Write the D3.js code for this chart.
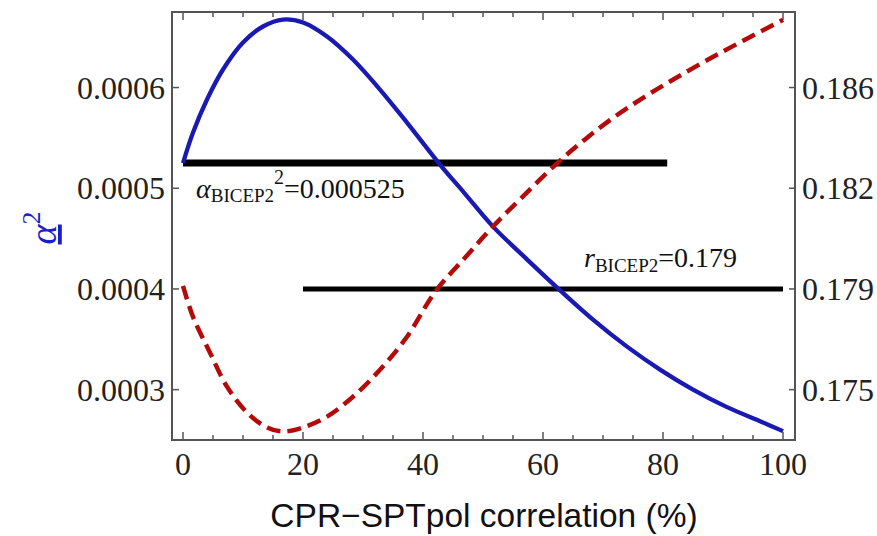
<!DOCTYPE html>
<html><head><meta charset="utf-8">
<script src="https://cdn.jsdelivr.net/npm/d3@7"></script>
<style>body{margin:0;background:#fff}svg{display:block}</style>
</head><body>
<svg id="c" width="877" height="536"></svg>
<script>
// ---- data ----
const corrX = [0,1.67,4,6.67,10,13.33,16.67,20,24,28.33,32.83,37.33,42.83,46.83,51.67,56.67,62.17,68.33,74,79.5,85,90.67,96.17,100];
const alpha2 = [0.000525,0.0005553,0.0005881,0.0006179,0.0006447,0.0006606,0.0006675,0.0006646,0.0006507,0.0006278,0.000598,0.0005652,0.0005235,0.0004957,0.0004619,0.0004331,0.0004023,0.0003695,0.0003427,0.0003199,0.0003,0.0002826,0.0002687,0.0002588];
const rX = [0,1.67,4.5,7.33,10.67,14,16.67,20,24,28.33,32.83,37.33,42,47,51.67,56.67,62.33,67,72,77,82,87.83,93.67,100];
const rVals = [0.17909,0.17789,0.17647,0.17512,0.17409,0.17350,0.17334,0.17350,0.17393,0.17472,0.17579,0.17710,0.17888,0.17993,0.18086,0.18176,0.18299,0.18394,0.18485,0.18564,0.18636,0.18715,0.1879,0.18869];
const alphaBICEP2 = 0.000525, alphaLineX = [0, 80.7];
const rBICEP2 = 0.179, rLineX = [20, 100];
const xTicks = [0,20,40,60,80,100];
const leftTicks = [0.0003,0.0004,0.0005,0.0006];
const rightTicks = [0.175,0.179,0.182,0.186];

// ---- layout ----
const svg = d3.select("#c");
const F = {l:172, r:795, t:12, b:440};
const x = d3.scaleLinear().domain([0,100]).range([183,783]);
const y = d3.scaleLinear().domain([0.00025,0.000675]).range([F.b,F.t]);
const yR = d3.scaleLinear().domain(rightTicks).range(leftTicks.map(y));
const serif = "Liberation Serif, Times New Roman, serif";

const line = d3.line().curve(d3.curveCatmullRom.alpha(0.5));

// frame
svg.append("rect").attr("x",F.l).attr("y",F.t).attr("width",F.r-F.l).attr("height",F.b-F.t)
  .attr("fill","none").attr("stroke","#555").attr("stroke-width",2);

// ticks
const minor = d3.range(0,101,5);
const tg = svg.append("g").attr("stroke","#555").attr("stroke-width",1.5);
minor.forEach(v=>{
  const L = v%20===0 ? 8 : 5;
  tg.append("line").attr("x1",x(v)).attr("x2",x(v)).attr("y1",F.b).attr("y2",F.b-L);
  tg.append("line").attr("x1",x(v)).attr("x2",x(v)).attr("y1",F.t).attr("y2",F.t+L);
});
leftTicks.forEach(v=>{
  tg.append("line").attr("x1",F.l).attr("x2",F.l+7).attr("y1",y(v)).attr("y2",y(v));
});
rightTicks.forEach(v=>{
  tg.append("line").attr("x1",F.r).attr("x2",F.r-6).attr("y1",yR(v)).attr("y2",yR(v));
});

// tick labels
svg.append("g").selectAll("text").data(xTicks).join("text")
  .attr("x",d=>x(d)).attr("y",475).attr("text-anchor","middle")
  .attr("font-family",serif).attr("font-size",32).attr("fill","#222").text(d=>d);
svg.append("g").selectAll("text").data(leftTicks).join("text")
  .attr("x",165).attr("y",d=>y(d)+11).attr("text-anchor","end")
  .attr("font-family",serif).attr("font-size",32).attr("fill","#222").text(d=>d.toFixed(4));
svg.append("g").selectAll("text").data(rightTicks).join("text")
  .attr("x",802).attr("y",d=>yR(d)+11).attr("text-anchor","start")
  .attr("font-family",serif).attr("font-size",32).attr("fill","#222").text(d=>d.toFixed(3));

// reference lines
svg.append("line").attr("x1",x(alphaLineX[0])).attr("x2",x(alphaLineX[1]))
  .attr("y1",y(alphaBICEP2)).attr("y2",y(alphaBICEP2)).attr("stroke","#000").attr("stroke-width",7);
svg.append("line").attr("x1",x(rLineX[0])).attr("x2",x(rLineX[1]))
  .attr("y1",yR(rBICEP2)).attr("y2",yR(rBICEP2)).attr("stroke","#000").attr("stroke-width",5);

// curves
svg.append("path").attr("d",line(corrX.map((d,i)=>[x(d),y(alpha2[i])])))
  .attr("fill","none").attr("stroke","#1a1ab2").attr("stroke-width",4.3);
svg.append("path").attr("d",line(rX.map((d,i)=>[x(d),yR(rVals[i])])))
  .attr("fill","none").attr("stroke","#b40a0a").attr("stroke-width",4.5).attr("stroke-dasharray","14,7");

// annotations
const a1 = svg.append("text").attr("x",196).attr("y",198).attr("font-family",serif).attr("font-size",28).attr("fill","#111");
a1.append("tspan").attr("font-style","italic").text("α");
a1.append("tspan").attr("font-size",19).attr("dy",4).text("BICEP2");
a1.append("tspan").attr("font-size",20).attr("dy",-18).text("2");
a1.append("tspan").attr("dy",14).text("=0.000525");

const a2 = svg.append("text").attr("x",584).attr("y",267).attr("font-family",serif).attr("font-size",28).attr("fill","#111");
a2.append("tspan").attr("font-style","italic").text("r");
a2.append("tspan").attr("font-size",19).attr("dy",5).text("BICEP2");
a2.append("tspan").attr("dy",-5).text("=0.179");

// axis titles
const yt = svg.append("text").attr("transform","translate(56,228) rotate(-90)")
  .attr("text-anchor","middle").attr("font-family",serif).attr("font-size",38).attr("fill","#1c1cc8");
yt.append("tspan").attr("text-decoration","underline").attr("font-style","italic").text("α");
yt.append("tspan").attr("font-size",26).attr("dy",-16).text("2");

svg.append("text").attr("x",484).attr("y",527).attr("text-anchor","middle")
  .attr("font-family","Liberation Sans, Arial, sans-serif").attr("font-size",33.5).attr("fill","#111")
  .text("CPR−SPTpol correlation (%)");
</script>
</body></html>
